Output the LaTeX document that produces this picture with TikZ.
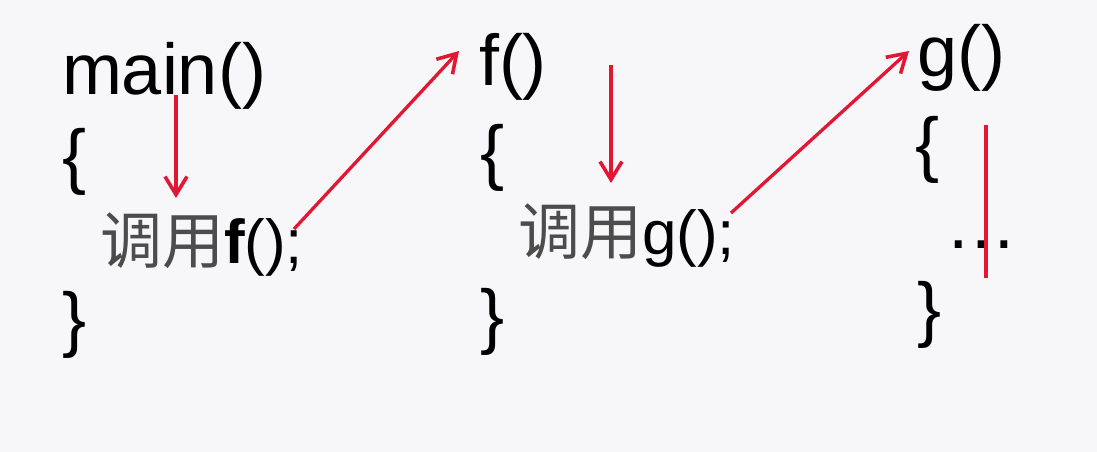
\documentclass[tikz,border=0pt]{standalone}
\usepackage{fontspec}
\setmainfont{Liberation Sans}
\newfontfamily\cjk{Noto Sans CJK SC}
\usetikzlibrary{arrows.meta}
\definecolor{bgc}{RGB}{247,247,250}
\definecolor{arr}{RGB}{224,24,52}
\tikzset{
  code/.style={anchor=base west,inner sep=0pt,outer sep=0pt,text=black,font=\fontsize{72}{80}\selectfont},
  codesm/.style={anchor=base west,inner sep=0pt,outer sep=0pt,text=black,font=\fontsize{62}{70}\selectfont},
  flow/.style={draw=arr,line width=3.3pt,-{Straight Barb[length=18pt,width=22pt,line width=3.6pt]}},
  flowplain/.style={draw=arr,line width=3.3pt}
}
\newcommand{\cn}[1]{{\cjk\color{black!70}#1}}
\begin{document}
\begin{tikzpicture}[x=1pt,y=-1pt]
\fill[bgc] (0,0) rectangle (1097,452);
\useasboundingbox (0,0) rectangle (1097,452);
% column 1
\node[code] (mainh) at (62,94) {main()};
\node[code] (lb1) at (62,180) {\{};
\node[codesm] (call1) at (100,263) {\cn{调用}{\bfseries f}();};
\node[code] (rb1) at (62,343) {\}};
% column 2
\node[code] (fh) at (479,85) {f()};
\node[code] (lb2) at (480,176) {\{};
\node[codesm] (call2) at (518,254) {\cn{调用}g();};
\node[code] (rb2) at (480,340) {\}};
% column 3
\node[code] (gh) at (917,77) {g()};
\node[code] (lb3) at (915,168) {\{};
\node[code] (dots) at (945,248) {…};
\node[code] (rb3) at (917,333) {\}};
% connector ends
\coordinate (a1s) at (176,95);
\coordinate (a1e) at (176,198);
\coordinate (a2s) at (294,229);
\coordinate (a2e) at (459,51);
\coordinate (a3s) at (611,65);
\coordinate (a3e) at (611,183);
\coordinate (a4s) at (731,213);
\coordinate (a4e) at (909,51);
\coordinate (a5s) at (986,125);
\coordinate (a5e) at (986,278);
\draw[flow] (a1s) -- (a1e);
\draw[flow] (a2s) -- (a2e);
\draw[flow] (a3s) -- (a3e);
\draw[flow] (a4s) -- (a4e);
\draw[flowplain] (a5s) -- (a5e);
\end{tikzpicture}
\end{document}
